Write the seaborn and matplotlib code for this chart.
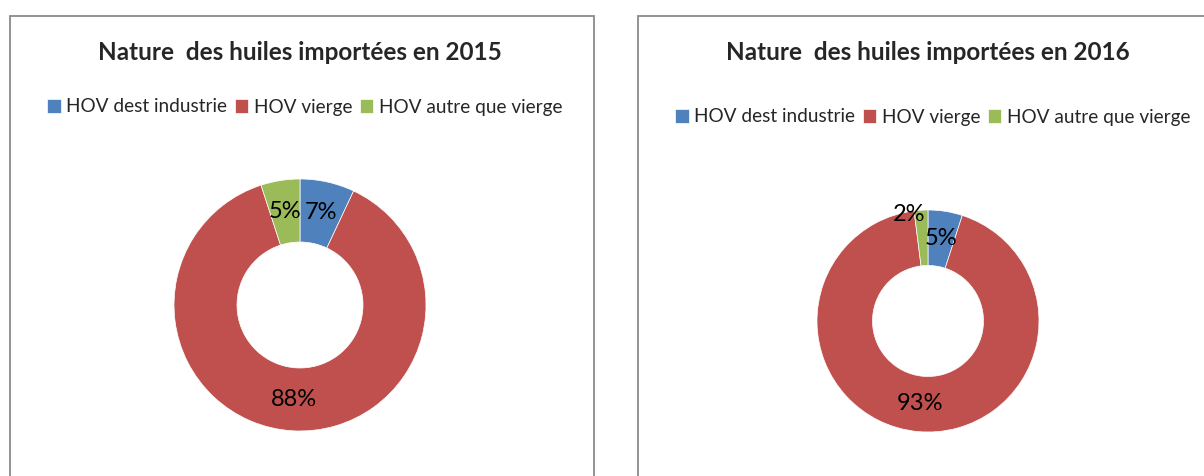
import matplotlib
matplotlib.use("Agg")
import matplotlib.pyplot as plt
from matplotlib.patches import Rectangle
import seaborn as sns
import numpy as np

# data
categories = ["HOV dest industrie", "HOV vierge", "HOV autre que vierge"]
years = ["2015", "2016"]
parts_2015 = [7, 88, 5]
parts_2016 = [5, 93, 2]
colors = ["#4F81BD", "#C0504D", "#9BBB59"]

sns.set_theme(style="white")
plt.rcParams['font.family'] = ['Lato', 'DejaVu Sans']

W, H = 1204, 476
fig = plt.figure(figsize=(W / 100, H / 100), dpi=100)

# panel frames (pixels: left, right, top)
frames = [(10, 594, 16), (638, 1215, 16)]
for x0, x1, top in frames:
    fig.patches.append(Rectangle((x0 / W, -0.05), (x1 - x0) / W, (H - top) / H + 0.05,
                                 transform=fig.transFigure, fill=False,
                                 edgecolor="#8a8a8a", lw=1.3))

# donut centre and radius in pixels, legend position
panels = [
    dict(values=parts_2015, cx=300, cy=305, r=126, leg_y=107, leg_x=305),
    dict(values=parts_2016, cx=928, cy=321, r=111, leg_y=117, leg_x=933),
]

for year, p in zip(years, panels):
    ax = fig.add_axes([(p["cx"] - p["r"]) / W, (H - p["cy"] - p["r"]) / H,
                       2 * p["r"] / W, 2 * p["r"] / H])
    wedges, texts, autotexts = ax.pie(
        p["values"], colors=colors, startangle=90, counterclock=False,
        radius=1, wedgeprops=dict(width=0.5, edgecolor="white", linewidth=0.5),
        autopct=lambda v: f"{v:.0f}%", pctdistance=0.75,
        textprops=dict(fontsize=17, color="black"))
    ax.set_xlim(-1, 1)
    ax.set_ylim(-1, 1)
    ax.set_aspect("equal")
    ax.axis("off")

    if year == "2016":
        # small green slice: label pushed outward
        ang = np.deg2rad(100)
        autotexts[2].set_position((0.97 * np.cos(ang), 0.97 * np.sin(ang)))

    fig.text(p["cx"] / W, 1 - 53 / H, f"Nature  des huiles importées en {year}",
             ha="center", va="center", fontsize=17.5, fontweight="bold")
    fig.legend(wedges, categories, loc="center",
               bbox_to_anchor=(p["leg_x"] / W, 1 - p["leg_y"] / H),
               ncol=3, frameon=False, fontsize=13.7, handlelength=0.7,
               handleheight=0.7, handletextpad=0.3, columnspacing=0.4,
               borderpad=0)

fig.savefig("out.png", dpi=100, facecolor="white")
